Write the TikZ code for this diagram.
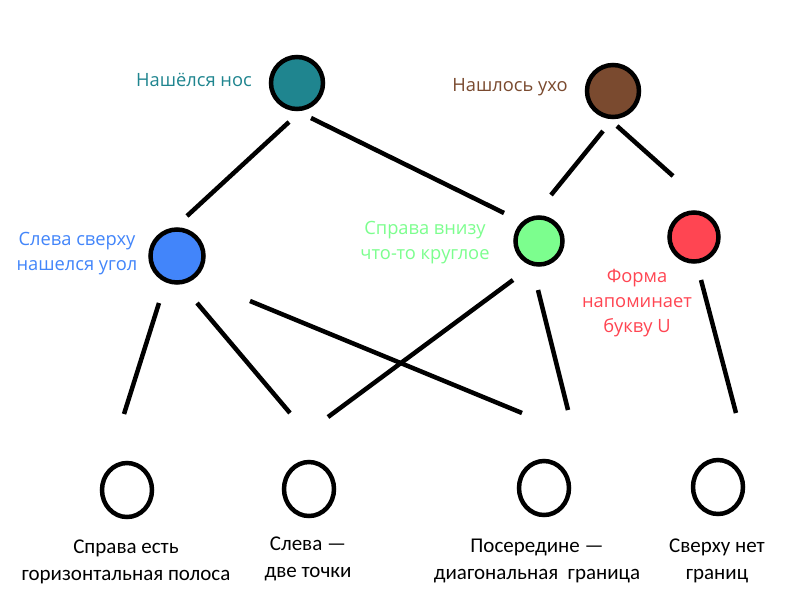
\documentclass[tikz,border=0pt]{standalone}
\usepackage{fontspec}
\setmainfont{Open Sans}
\newfontfamily\botfont{Carlito}
\usetikzlibrary{shapes.geometric}
\definecolor{cteal}{HTML}{1F858F}
\definecolor{cbrown}{HTML}{7A4A2F}
\definecolor{cblue}{HTML}{4285FA}
\definecolor{cgreen}{HTML}{7CFE8E}
\definecolor{cred}{HTML}{FF4552}
\tikzset{
  topnode/.style={circle, draw=black, line width=4.5pt, minimum size=52pt, inner sep=0pt},
  leafnode/.style={ellipse, draw=black, line width=4.5pt, minimum width=50pt, minimum height=54pt, inner sep=0pt},
  conn/.style={line width=4.5pt, draw=black},
  clabel/.style={align=center, font=\fontsize{18.3}{25}\selectfont, inner sep=0pt},
  blabel/.style={align=center, font=\botfont\fontsize{21}{26.5}\selectfont, inner sep=0pt}
}
\begin{document}
\begin{tikzpicture}[x=1pt,y=-1pt]
\useasboundingbox (0,0) rectangle (800,600);
\fill[white] (0,0) rectangle (800,600);
% nodes
\node[topnode, fill=cteal] (T) at (297,83) {};
\node[topnode, fill=cbrown] (B) at (613,91) {};
\node[topnode, fill=cblue, minimum size=53pt] (L) at (177,256) {};
\node[topnode, fill=cgreen, minimum size=47pt] (G) at (539,241) {};
\node[topnode, fill=cred, minimum size=49pt] (R) at (694,237) {};
\node[leafnode] (b1) at (127,490) {};
\node[leafnode] (b2) at (309,489) {};
\node[leafnode] (b3) at (544,488) {};
\node[leafnode] (b4) at (718,487) {};
% labels
\node[clabel, text=cteal] (lT) at (194,80) {Нашёлся нос};
\node[clabel, text=cbrown] (lB) at (510,87) {Нашлось ухо};
\node[clabel, text=cblue] (lL) at (77,254) {Слева сверху\\нашелся угол};
\node[clabel, text=cgreen] (lG) at (425,243) {Справа внизу\\что-то круглое};
\node[clabel, text=cred] (lR) at (637,303) {Форма\\напоминает\\букву U};
\node[blabel] (lb1) at (126,562) {Справа есть\\горизонтальная полоса};
\node[blabel] (lb2) at (308,559) {Слева —\\две точки};
\node[blabel] (lb3) at (537,561) {Посередине —\\диагональная\ \ граница};
\node[blabel] (lb4) at (717,561) {Сверху нет\\границ};
% connectors
\draw[conn] ([xshift=-8pt,yshift=-39pt]T.center) -- ([xshift=10pt,yshift=40pt]L.center);
\draw[conn] ([xshift=14pt,yshift=-35pt]T.center) -- ([xshift=-35pt,yshift=28pt]G.center);
\draw[conn] ([xshift=-10pt,yshift=-40pt]B.center) -- ([xshift=12pt,yshift=46pt]G.center);
\draw[conn] ([xshift=4pt,yshift=-35pt]B.center) -- ([xshift=-21pt,yshift=61pt]R.center);
\draw[conn] ([xshift=-18pt,yshift=-47pt]L.center) -- ([xshift=-3pt,yshift=76pt]b1.center);
\draw[conn] ([xshift=20pt,yshift=-47pt]L.center) -- ([xshift=-19pt,yshift=76pt]b2.center);
\draw[conn] ([xshift=73pt,yshift=-45pt]L.center) -- ([xshift=-22pt,yshift=75pt]b3.center);
\draw[conn] ([xshift=-26pt,yshift=-39pt]G.center) -- ([xshift=19pt,yshift=72pt]b2.center);
\draw[conn] ([xshift=-1pt,yshift=-49pt]G.center) -- ([xshift=24pt,yshift=78pt]b3.center);
\draw[conn] ([xshift=7pt,yshift=-43pt]R.center) -- ([xshift=18pt,yshift=74pt]b4.center);
\end{tikzpicture}
\end{document}
